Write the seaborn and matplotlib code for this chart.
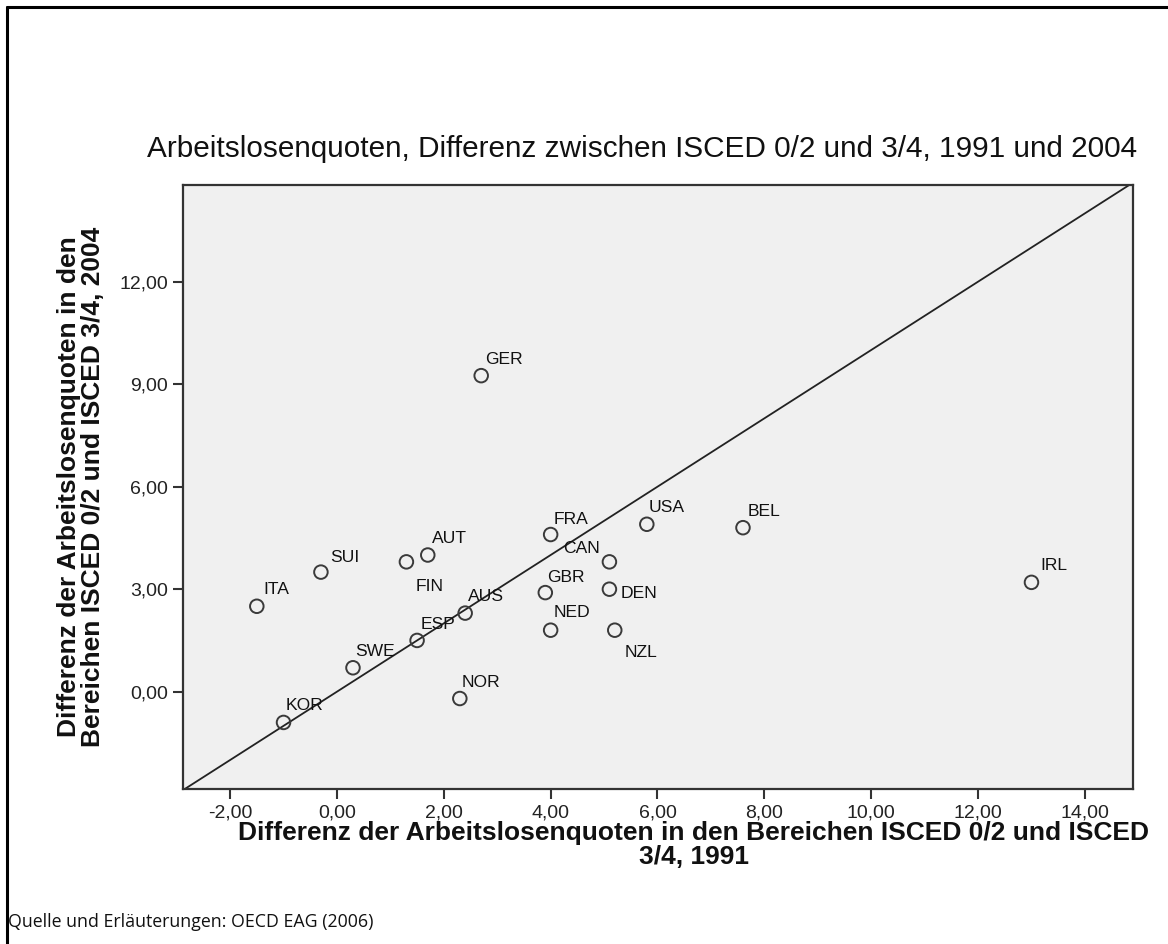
import numpy as np
import pandas as pd
import matplotlib
matplotlib.use("Agg")
import matplotlib.pyplot as plt
from matplotlib.lines import Line2D
import seaborn as sns

# ---------------- data ----------------
countries = ["ITA", "SUI", "FIN", "AUT", "AUS", "ESP", "SWE", "KOR", "NOR", "FRA",
             "CAN", "GBR", "DEN", "NED", "NZL", "USA", "BEL", "IRL", "GER"]
diff_1991 = [-1.5, -0.3, 1.3, 1.7, 2.4, 1.5, 0.3, -1.0, 2.3, 4.0,
             5.1, 3.9, 5.1, 4.0, 5.2, 5.8, 7.6, 13.0, 2.7]
diff_2004 = [2.5, 3.5, 3.8, 4.0, 2.3, 1.5, 0.7, -0.9, -0.2, 4.6,
             3.8, 2.9, 3.0, 1.8, 1.8, 4.9, 4.8, 3.2, 9.25]
x_ticks = [-2, 0, 2, 4, 6, 8, 10, 12, 14]
x_tick_labels = ["-2,00", "0,00", "2,00", "4,00", "6,00", "8,00", "10,00", "12,00", "14,00"]
y_ticks = [0, 3, 6, 9, 12]
y_tick_labels = ["0,00", "3,00", "6,00", "9,00", "12,00"]

title = "Arbeitslosenquoten, Differenz zwischen ISCED 0/2 und 3/4, 1991 und 2004"
x_label = "Differenz der Arbeitslosenquoten in den Bereichen ISCED 0/2 und ISCED\n3/4, 1991"
y_label = "Differenz der Arbeitslosenquoten in den\nBereichen ISCED 0/2 und ISCED 3/4, 2004"
footer = "Quelle und Erläuterungen: OECD EAG (2006)"

# label offsets in pixels (dx, dy up) -- style only
label_offsets = {
    "ITA": (7, 12), "SUI": (9, 10), "AUT": (4, 12), "FIN": (9, -29), "AUS": (3, 12),
    "ESP": (4, 11), "SWE": (2, 12), "KOR": (2, 12), "NOR": (2, 12), "FRA": (3, 11),
    "CAN": (-46, 9), "GBR": (2, 11), "DEN": (11, -9), "NED": (3, 13), "NZL": (10, -27),
    "USA": (2, 12), "BEL": (5, 12), "IRL": (9, 12), "GER": (4, 12),
}

df = pd.DataFrame({"country": countries, "x": diff_1991, "y": diff_2004})

# ---------------- figure ----------------
sns.set_theme(style="white")
plt.rcParams["font.family"] = ["Liberation Sans", "DejaVu Sans"]

W, H = 1168, 944
fig = plt.figure(figsize=(W / 100, H / 100), dpi=100)
fig.patch.set_facecolor("white")

ax_l, ax_r, ax_t, ax_b = 183.3, 1133.3, 185.0, 789.3
ax = fig.add_axes([ax_l / W, 1 - ax_b / H, (ax_r - ax_l) / W, (ax_b - ax_t) / H])
ax.set_facecolor("#f0f0f0")

ax.set_xlim(-2.876, 14.906)
ax.set_ylim(-2.857, 14.83)

# diagonal reference line y = x
ax.axline((0, 0), slope=1, color="#222222", lw=1.3, zorder=1)

sns.scatterplot(data=df, x="x", y="y", ax=ax, marker="o", s=95,
                facecolor="none", edgecolor="#3a3a3a", linewidth=1.4, zorder=3)

for c, xv, yv in zip(countries, diff_1991, diff_2004):
    dx, dy = label_offsets[c]
    ax.annotate(c, (xv, yv), xytext=(dx, dy), textcoords="offset pixels",
                ha="left", va="baseline", fontsize=12.6, color="#111111")

ax.set_xticks(x_ticks)
ax.set_xticklabels(x_tick_labels)
ax.set_yticks(y_ticks)
ax.set_yticklabels(y_tick_labels)
ax.tick_params(axis="both", which="major", direction="out", length=7, width=1.5,
               color="#333333", labelsize=14, labelcolor="#222222", pad=4,
               bottom=True, left=True)
for s in ax.spines.values():
    s.set_color("#333333")
    s.set_linewidth(1.6)
ax.set_xlabel("")
ax.set_ylabel("")

# texts
fig.text(642 / W, 1 - 149 / H, title, ha="center", va="center", fontsize=21.4, color="#111111")
fig.text(694 / W, 1 - 845 / H, x_label, ha="center", va="center", fontsize=19,
         fontweight="bold", linespacing=0.95, color="#111111")
fig.text(81 / W, 1 - 487 / H, y_label, ha="center", va="center", fontsize=19,
         fontweight="bold", rotation=90, linespacing=0.95, color="#111111")
fig.text(8 / W, 1 - 922 / H, footer, ha="left", va="center", fontsize=12.8,
         family=["Open Sans", "DejaVu Sans"], color="#111111")

# outer frame (top and left visible)
fig.add_artist(Line2D([7 / W, 1.0], [1 - 7 / H, 1 - 7 / H], transform=fig.transFigure,
                      color="black", lw=2.2))
fig.add_artist(Line2D([7 / W, 7 / W], [0.0, 1 - 7 / H], transform=fig.transFigure,
                      color="black", lw=2.2))

fig.savefig("out.png", dpi=100)
